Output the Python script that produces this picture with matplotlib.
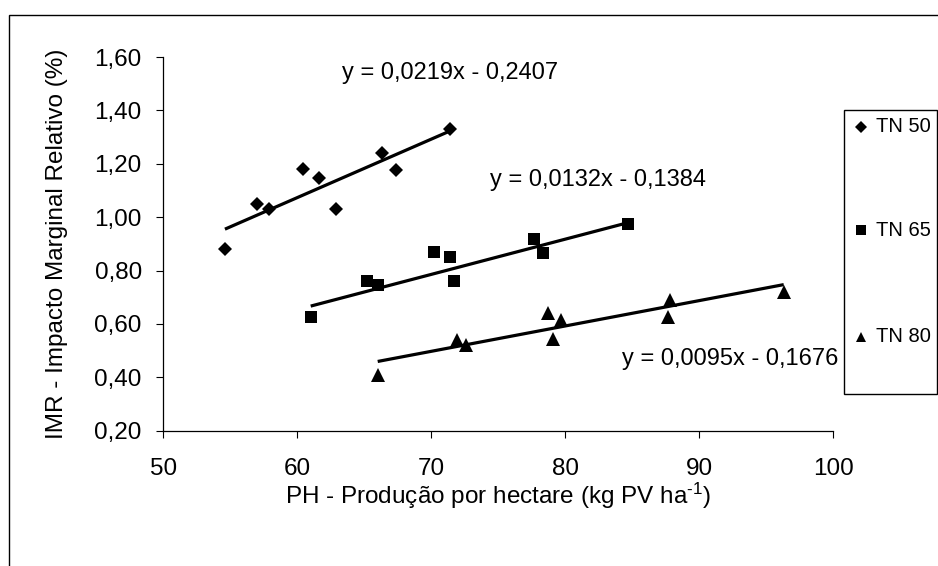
import matplotlib
matplotlib.use("Agg")
import matplotlib.pyplot as plt
from matplotlib.lines import Line2D
from matplotlib.patches import Rectangle

plt.rcParams["font.family"] = ["Liberation Sans", "DejaVu Sans"]
plt.rcParams["mathtext.fontset"] = "custom"
plt.rcParams["mathtext.rm"] = "Liberation Sans"
plt.rcParams["mathtext.it"] = "Liberation Sans:italic"

# --- data -------------------------------------------------------------
tn50_x = [54.6, 57.0, 57.9, 60.4, 61.6, 62.9, 66.3, 67.4, 71.4]
tn50_y = [0.88, 1.05, 1.03, 1.18, 1.145, 1.03, 1.24, 1.175, 1.33]

tn65_x = [61.0, 65.2, 66.0, 70.2, 71.4, 71.7, 77.7, 78.3, 84.7]
tn65_y = [0.625, 0.76, 0.745, 0.87, 0.85, 0.76, 0.92, 0.865, 0.975]

tn80_x = [66.0, 71.9, 72.6, 78.7, 79.7, 79.1, 87.8, 87.7, 96.3]
tn80_y = [0.41, 0.54, 0.52, 0.64, 0.615, 0.545, 0.69, 0.625, 0.72]

series_labels = ["TN 50", "TN 65", "TN 80"]
slopes = [0.0219, 0.0132, 0.0095]
intercepts = [-0.2407, -0.1384, -0.1676]
equation_texts = ["y = 0,0219x - 0,2407", "y = 0,0132x - 0,1384", "y = 0,0095x - 0,1676"]

x_ticks = [50, 60, 70, 80, 90, 100]
y_ticks = [0.20, 0.40, 0.60, 0.80, 1.00, 1.20, 1.40, 1.60]
y_tick_labels = ["0,20", "0,40", "0,60", "0,80", "1,00", "1,20", "1,40", "1,60"]

x_label = "PH - Produção por hectare (kg PV ha$^{\\text{-1}}$)"
y_label = "IMR - Impacto Marginal Relativo (%)"

# --- figure -----------------------------------------------------------
W, H = 938, 566
fig = plt.figure(figsize=(W / 100, H / 100), dpi=100)
fig.patch.set_facecolor("white")

def fx(px):
    return px / W

def fy(py):
    return 1 - py / H

ax = fig.add_axes([fx(163.3), fy(430.7), fx(833.3) - fx(163.3), fy(57) - fy(430.7)])

markers = ["D", "s", "^"]
msizes = [7.0, 8.0, 9.5]
xs = [tn50_x, tn65_x, tn80_x]
ys = [tn50_y, tn65_y, tn80_y]

for x, y, m, ms, a, b in zip(xs, ys, markers, msizes, slopes, intercepts):
    ax.plot(x, y, linestyle="none", marker=m, markersize=ms, color="black",
            markeredgewidth=0, clip_on=False)
    x0, x1 = min(x), max(x)
    ax.plot([x0, x1], [a * x0 + b, a * x1 + b], color="black", linewidth=2.3,
            solid_capstyle="butt")

# regression equations
eq_pos = [(63.3, 1.54), (74.4, 1.14), (84.2, 0.47)]
for (ex, ey), t in zip(eq_pos, equation_texts):
    ax.text(ex, ey, t, fontsize=17, ha="left", va="center")

ax.set_xlim(50, 100)
ax.set_ylim(0.2, 1.6)
ax.set_xticks(x_ticks)
ax.set_xticklabels([str(v) for v in x_ticks])
ax.set_yticks(y_ticks)
ax.set_yticklabels(y_tick_labels)
ax.tick_params(axis="both", direction="out", length=5, width=0.8,
               labelsize=17.5, colors="black")
ax.tick_params(axis="x", pad=14.5)
ax.tick_params(axis="y", pad=10.5)
for side in ("top", "right"):
    ax.spines[side].set_visible(False)
for side in ("left", "bottom"):
    ax.spines[side].set_linewidth(0.9)
    ax.spines[side].set_color("black")

ax.set_xlabel(x_label, fontsize=17.5)
ax.xaxis.set_label_coords(0.5, (430.7 - 496) / (430.7 - 57), transform=ax.transAxes)
ax.xaxis.label.set_va("center")
ax.set_ylabel(y_label, fontsize=17.5)
ax.yaxis.set_label_coords((57 - 163.3) / (833.3 - 163.3), 0.5, transform=ax.transAxes)
ax.yaxis.label.set_va("center")

# legend box with entries
fig.add_artist(Rectangle((fx(844), fy(394)), fx(936.5) - fx(844), fy(110) - fy(394),
                         transform=fig.transFigure, fill=False, edgecolor="black",
                         linewidth=1.0))
legend_rows = [127, 230, 336.5]
for lab, m, ms, row in zip(series_labels, markers, msizes, legend_rows):
    fig.add_artist(Line2D([fx(861)], [fy(row)], marker=m, markersize=ms * 0.82,
                          color="black", markeredgewidth=0, linestyle="none",
                          transform=fig.transFigure))
    fig.text(fx(876), fy(row), lab, fontsize=14.5, ha="left", va="center")

# outer chart frame
fig.add_artist(Rectangle((fx(9), -0.2), 2.0, fy(14.7) + 0.2,
                         transform=fig.transFigure, fill=False, edgecolor="black",
                         linewidth=1.0))

fig.savefig("out.png", dpi=100, facecolor="white")
